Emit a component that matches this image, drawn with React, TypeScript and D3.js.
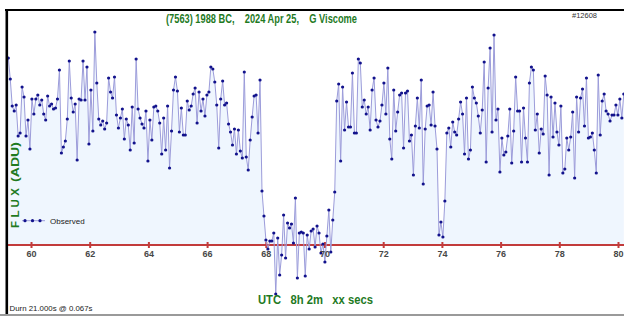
import { useEffect, useRef } from "react";
import * as d3 from "d3";

// flux readings (ADU above the zero line), sampled every 0.067 s
const fluxStart = [
  187, 166, 139, 134, 140, 109, 112, 158, 148, 109, 125, 96, 146, 131, 146, 150, 140, 145, 131, 125,
  149, 139, 141, 136, 137, 146, 175, 92, 98, 104, 126, 184, 147, 133, 141, 85, 146, 145, 184, 145,
  178, 101, 155, 114, 213, 162, 126, 120, 124, 116, 122, 167, 153, 147, 168, 130, 117, 127, 136, 106,
  126, 120, 95, 138, 102, 186, 136, 127, 121, 117, 134, 84, 125, 105, 138, 139, 134,
];
const fluxIngress = [
  122, 91, 127, 95, 139, 77, 114, 155, 168, 154, 113, 137, 110, 110, 144, 135, 139, 151, 157, 122,
  153, 134, 146, 129, 150, 153, 178, 176, 163, 140, 97, 146, 164, 140, 142, 121, 113, 100, 116, 91,
  115, 94, 87, 173, 88, 75, 105, 128, 149, 150, 112, 165, 54, 29, 5, -4, 4, 4, 12, -49,
  7, -30, -10, 30, -13, 22, 17, 21, 2, 47, -33, 12, 13, 12, -31, 10, -4, 14,
];
const fluxEgress = [
  16, -2, 19, 12, -8, 1, -17, 9, 35, -7, 25, 53, 144, 161, 84, 158, 115, 143, 118, 118,
  172, 112, 112, 186, 182, 138, 145, 131, 138, 115, 155, 167, 125, 118, 124, 140, 162, 131, 177, 106,
  86, 155, 114, 133, 150, 152, 97, 152, 154, 104, 110, 70, 119, 147, 117, 165, 61, 116, 139, 140,
  120, 153, 119, 96, 10, 23, 8, 44, 112, 117, 98, 123, 113, 110, 126, 143, 131, 91, 147, 86,
];
const fluxEnd = [
  95, 158, 147, 142, 129, 112, 135, 183, 83, 157, 197, 113, 210, 125, 136, 73, 107, 90, 93, 109,
  136, 82, 114, 168, 134, 134, 83, 137, 107, 83, 162, 178, 175, 115, 131, 92, 116, 111, 169, 150,
  70, 148, 108, 142, 113, 100, 139, 72, 76, 107, 95, 108, 133, 67, 148, 113, 147, 156, 119, 167,
  107, 108, 112, 95, 72, 170, 110, 144, 151, 134, 131, 124, 130, 130, 140, 130, 146, 127, 151,
];

const startSec = 59.21;
const cadence = 0.067;
const tickSecs = [60, 62, 64, 66, 68, 70, 72, 74, 76, 78, 80];

const WIDTH = 624;
const HEIGHT = 316;
const GREEN = "#1f7a1f";
const FONT = "'Liberation Sans', Arial, sans-serif";

export default function App() {
  const svgRef = useRef<SVGSVGElement>(null);

  useEffect(() => {
    if (!svgRef.current) return;
    const svg = d3.select(svgRef.current);
    svg.selectAll("*").remove();

    const flux = [...fluxStart, ...fluxIngress, ...fluxEgress, ...fluxEnd];
    const data = flux.map((v, i) => ({ t: startSec + i * cadence, v }));

    const x = d3.scaleLinear().domain([60, 80]).range([31.5, 618.5]);
    const y = d3.scaleLinear().domain([0, 234]).range([245, 11]);

    svg.append("rect").attr("width", WIDTH).attr("height", HEIGHT).attr("fill", "#fff");

    svg.append("clipPath").attr("id", "plot-clip")
      .append("rect").attr("x", 8).attr("y", 11).attr("width", WIDTH - 8).attr("height", 302);

    const plot = svg.append("g").attr("clip-path", "url(#plot-clip)");

    // light fill under the curve
    const area = d3.area<{ t: number; v: number }>()
      .x(d => x(d.t))
      .y0(y(0))
      .y1(d => y(d.v));
    plot.append("path").datum(data).attr("d", area).attr("fill", "#eff6fe");

    // zero line with ticks
    plot.append("line")
      .attr("x1", 8).attr("x2", WIDTH)
      .attr("y1", y(0)).attr("y2", y(0))
      .attr("stroke", "#c23b3b").attr("stroke-width", 2);
    plot.selectAll(".tick")
      .data(tickSecs)
      .enter()
      .append("line")
      .attr("x1", d => x(d)).attr("x2", d => x(d))
      .attr("y1", y(0) - 3).attr("y2", y(0) + 3)
      .attr("stroke", "#c23b3b").attr("stroke-width", 2);

    const line = d3.line<{ t: number; v: number }>()
      .x(d => x(d.t))
      .y(d => y(d.v));
    plot.append("path").datum(data)
      .attr("d", line)
      .attr("fill", "none")
      .attr("stroke", "#9c9cda")
      .attr("stroke-width", 1);

    plot.selectAll(".dot")
      .data(data)
      .enter()
      .append("circle")
      .attr("cx", d => x(d.t))
      .attr("cy", d => y(d.v))
      .attr("r", 1.6)
      .attr("fill", "#12128c");

    svg.selectAll(".tick-label")
      .data(tickSecs)
      .enter()
      .append("text")
      .attr("x", d => x(d))
      .attr("y", y(0) + 12)
      .attr("text-anchor", "middle")
      .attr("font-family", FONT)
      .attr("font-size", 9)
      .attr("font-weight", "bold")
      .attr("fill", "#474747")
      .text(d => String(d));

    // frame
    svg.append("line").attr("x1", 5).attr("x2", WIDTH).attr("y1", 10).attr("y2", 10)
      .attr("stroke", "#000").attr("stroke-width", 2);
    svg.append("line").attr("x1", 6.8).attr("x2", 6.8).attr("y1", 9).attr("y2", HEIGHT)
      .attr("stroke", "#000").attr("stroke-width", 2.6);
    svg.append("line").attr("x1", 0).attr("x2", WIDTH).attr("y1", 315).attr("y2", 315)
      .attr("stroke", "#9a9a9a").attr("stroke-width", 2);

    // title
    svg.append("text")
      .attr("x", 166).attr("y", 22.5)
      .attr("font-family", FONT).attr("font-size", 12).attr("font-weight", "bold")
      .attr("fill", GREEN)
      .style("white-space", "pre")
      .attr("textLength", 191).attr("lengthAdjust", "spacingAndGlyphs")
      .text("(7563) 1988 BC,    2024 Apr 25,    G Viscome");

    svg.append("text")
      .attr("x", 572).attr("y", 18)
      .attr("font-family", FONT).attr("font-size", 7.5)
      .attr("fill", "#333")
      .text("#12608");

    // y axis label
    const yl = svg.append("g").attr("transform", "translate(19,228) rotate(-90)");
    yl.append("text")
      .attr("x", 0).attr("y", 0)
      .attr("font-family", FONT).attr("font-size", 11.5).attr("font-weight", "bold")
      .attr("fill", GREEN)
      .attr("textLength", 40).attr("lengthAdjust", "spacing")
      .text("F L U X");
    yl.append("text")
      .attr("x", 46).attr("y", 0)
      .attr("font-family", FONT).attr("font-size", 11.5).attr("font-weight", "bold")
      .attr("fill", GREEN)
      .attr("textLength", 40).attr("lengthAdjust", "spacingAndGlyphs")
      .text("(ADU)");

    // legend
    svg.append("line").attr("x1", 22).attr("x2", 45).attr("y1", 220.7).attr("y2", 220.7)
      .attr("stroke", "#9c9cda").attr("stroke-width", 1);
    [25, 32.5, 40].forEach(cx => {
      svg.append("circle").attr("cx", cx).attr("cy", 220.7).attr("r", 1.6).attr("fill", "#12128c");
    });
    svg.append("text")
      .attr("x", 50).attr("y", 223.5)
      .attr("font-family", FONT).attr("font-size", 8)
      .attr("fill", "#222")
      .text("Observed");

    // x axis label
    svg.append("text")
      .attr("x", 258).attr("y", 304)
      .attr("font-family", FONT).attr("font-size", 12).attr("font-weight", "bold")
      .attr("fill", GREEN)
      .style("white-space", "pre")
      .attr("textLength", 115).attr("lengthAdjust", "spacingAndGlyphs")
      .text("UTC   8h 2m   xx secs");

    svg.append("text")
      .attr("x", 9.5).attr("y", 311)
      .attr("font-family", FONT).attr("font-size", 8)
      .attr("fill", "#222")
      .attr("textLength", 83).attr("lengthAdjust", "spacingAndGlyphs")
      .text("Durn 21.000s @ 0.067s");
  }, []);

  return (
    <div style={{ position: "absolute", left: 0, top: 0 }}>
      <svg ref={svgRef} width={WIDTH} height={HEIGHT} style={{ display: "block" }}></svg>
    </div>
  );
}
